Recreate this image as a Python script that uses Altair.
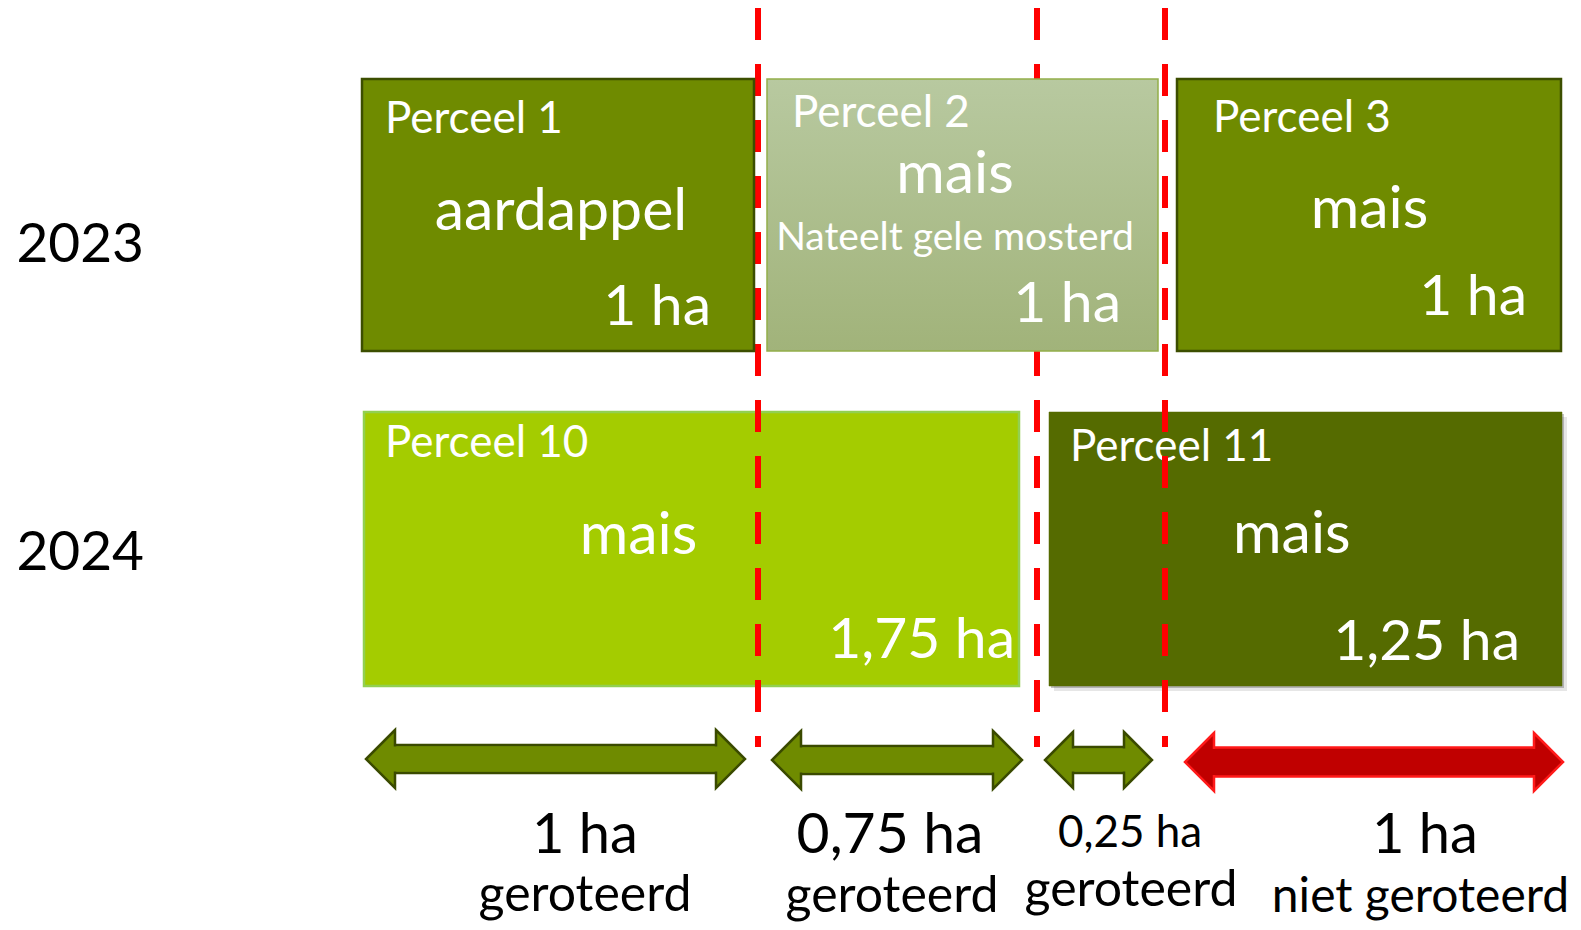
import altair as alt
import pandas as pd

# ---------------- data ----------------
years = ["2023", "2024"]
plots_2023 = ["Perceel 1", "Perceel 2", "Perceel 3"]
crops_2023 = ["aardappel", "mais", "mais"]
aftercrops_2023 = ["", "Nateelt gele mosterd", ""]
areas_2023 = [1.0, 1.0, 1.0]
plots_2024 = ["Perceel 10", "Perceel 11"]
crops_2024 = ["mais", "mais"]
areas_2024 = [1.75, 1.25]
overlap_areas = [1.0, 0.75, 0.25, 1.0]
overlap_status = ["geroteerd", "geroteerd", "geroteerd", "niet geroteerd"]


def starts(areas):
    s, out = 0.0, []
    for a in areas:
        out.append(s)
        s += a
    return out


def ha_label(a):
    return f"{a:g}".replace(".", ",") + " ha"


st_2023 = starts(areas_2023)
st_2024 = starts(areas_2024)
st_ov = starts(overlap_areas)
edges = sorted({round(v, 6) for v in
                st_2023 + [s + a for s, a in zip(st_2023, areas_2023)] +
                st_2024 + [s + a for s, a in zip(st_2024, areas_2024)] +
                st_ov + [s + a for s, a in zip(st_ov, overlap_areas)]})
boundaries = [round(s + a, 6) for s, a in zip(st_ov, overlap_areas)][:-1]

# ---------------- layout / style ----------------
FONT = "Lato"
x_range_px = [212, 608, 887, 1015, 1412]     # diagram is not drawn to scale
XS = alt.Scale(domain=edges, range=x_range_px, nice=False, zero=False, clamp=False)
YS = alt.Scale(domain=[8, 922], range=[0, 914], nice=False, zero=False)


def X(f):
    return alt.X(f, type="quantitative", scale=XS, axis=None)


def Y(f):
    return alt.Y(f, type="quantitative", scale=YS, axis=None)


row_box = {"2023": (79, 351), "2024": (412, 686)}
year_label_baseline = [262, 570]

p2_grad = alt.LinearGradient(
    gradient="linear", x1=0, x2=0, y1=0, y2=1,
    stops=[alt.GradientStop(color="#B8C9A0", offset=0),
           alt.GradientStop(color="#A1B37A", offset=1)])

boxes = []
for i, p in enumerate(plots_2023):
    boxes.append(dict(row="2023", plot=p, crop=crops_2023[i], after=aftercrops_2023[i],
                      start=st_2023[i], end=st_2023[i] + areas_2023[i], area=areas_2023[i]))
for i, p in enumerate(plots_2024):
    boxes.append(dict(row="2024", plot=p, crop=crops_2024[i], after="",
                      start=st_2024[i], end=st_2024[i] + areas_2024[i], area=areas_2024[i]))

box_fill = ["#6F8B00", p2_grad, "#6F8B00", "#A4CC00", "#556B00"]
box_stroke = ["#3C4E00", "#93AE4A", "#3C4E00", "#92D050", "#556B00"]
box_sw = [2.5, 1.5, 2.5, 2.5, 0.5]
box_in_l = [0, 9, 12, 2, 12]
box_in_r = [-4, -7, -1, -18, 0]
title_dx = [23, 34, 48, 23, 33]
crop_dx = [1, 11, 6, -70, -22]
area_dx = [-47, -44, -35, -22, -42]
title_y = [133, 127, 132, 457, 461]
crop_y = [230, 193, 228, 554, 553]
after_y = [0, 250, 0, 0, 0]
area_y = [325, 322, 315, 658, 660]
crop_size = [59, 59, 59, 59, 59]

arrow_fill = ["#6F8B00", "#6F8B00", "#6F8B00", "#C00000"]
arrow_stroke = ["#3A4A00", "#3A4A00", "#3A4A00", "#FF1A1A"]
arrow_in_l = [4, 14, 8, 20]
arrow_in_r = [-13, -15, -13, 1]
arrow_cy = [759, 760, 760, 762]
arrow_head = [29, 29, 28, 29]
arrow_shaft = [14, 14, 13, 14.5]

seg_area_dx = [25, -7.5, 29, 61.5]
seg_status_dx = [25, -5.5, 30, 57]
seg_area_size = [56, 57, 44, 56]
seg_status_size = [50, 50, 50, 48]
seg_area_y = [853, 853, 847, 853]
seg_status_y = [911, 912, 906, 912]

layers = []


def text_layer(xv, yv, txt, size, align, dx, color="white"):
    df = pd.DataFrame({"x": [xv], "y": [yv], "t": [txt]})
    return alt.Chart(df).mark_text(
        align=align, baseline="alphabetic", dx=dx, font=FONT, fontSize=size,
        color=color).encode(x=X("x"), y=Y("y"), text="t:N")


def box_layers(i):
    b = boxes[i]
    top, bot = row_box[b["row"]]
    df = pd.DataFrame({"s": [b["start"]], "e": [b["end"]], "t": [top], "b": [bot]})
    out = []
    if b["plot"] == "Perceel 11":
        for off, op in [(2, 0.35), (5, 0.15)]:
            out.append(alt.Chart(df).mark_rect(
                fill="#555555", opacity=op, xOffset=box_in_l[i] + off, x2Offset=box_in_r[i] + off,
                yOffset=off, y2Offset=off).encode(x=X("s"), x2="e", y=Y("t"), y2="b"))
    out.append(alt.Chart(df).mark_rect(
        fill=box_fill[i], stroke=box_stroke[i], strokeWidth=box_sw[i],
        xOffset=box_in_l[i], x2Offset=box_in_r[i]).encode(x=X("s"), x2="e", y=Y("t"), y2="b"))
    mid = (b["start"] + b["end"]) / 2
    out.append(text_layer(b["start"], title_y[i], b["plot"], 44, "left", title_dx[i]))
    out.append(text_layer(mid, crop_y[i], b["crop"], crop_size[i], "center", crop_dx[i]))
    if b["after"]:
        out.append(text_layer(mid, after_y[i], b["after"], 39, "center", crop_dx[i]))
    out.append(text_layer(b["end"], area_y[i], ha_label(b["area"]), 57, "right", area_dx[i]))
    return out


# year labels (row headers, left of the plot area)
year_df = pd.DataFrame({"year": years, "y": year_label_baseline})
layers.append(alt.Chart(year_df).mark_text(
    align="right", baseline="alphabetic", font=FONT, fontSize=55, color="black").encode(
    x=alt.value(-6), y=Y("y"), text="year:N"))

# 2024 row first (dashed lines run over it)
for i in range(len(boxes)):
    if boxes[i]["row"] == "2024":
        layers += box_layers(i)

# red dashed boundaries
rule_df = pd.DataFrame({"x": boundaries, "y": [8] * len(boundaries), "y2": [747] * len(boundaries)})
layers.append(alt.Chart(rule_df).mark_rule(
    color="#FF0000", strokeWidth=6, strokeDash=[32, 24]).encode(x=X("x"), y=Y("y"), y2="y2"))

# 2023 row on top
for i in range(len(boxes)):
    if boxes[i]["row"] == "2023":
        layers += box_layers(i)

# double arrows
LEFT_HEAD = "M0,-1L-1,0L0,1Z"
RIGHT_HEAD = "M0,-1L1,0L0,1Z"
for i, a in enumerate(overlap_areas):
    s, e = st_ov[i], st_ov[i] + a
    cy, hh, sh = arrow_cy[i], arrow_head[i], arrow_shaft[i]
    df = pd.DataFrame({"s": [s], "e": [e], "cy": [cy], "t": [cy - sh], "b": [cy + sh],
                       "ti": [cy - sh + 1.4], "bi": [cy + sh - 1.4]})
    base = alt.Chart(df)
    xl, xr = arrow_in_l[i] + hh - 2, arrow_in_r[i] - hh + 2
    layers.append(base.mark_rect(fill=arrow_fill[i], stroke=arrow_stroke[i], strokeWidth=2.5,
                                 xOffset=xl, x2Offset=xr).encode(x=X("s"), x2="e", y=Y("t"), y2="b"))
    layers.append(base.mark_point(shape=LEFT_HEAD, size=(2 * hh) ** 2, filled=True, opacity=1,
                                  fill=arrow_fill[i], stroke=arrow_stroke[i], strokeWidth=2.5,
                                  xOffset=arrow_in_l[i] + hh).encode(x=X("s"), y=Y("cy")))
    layers.append(base.mark_point(shape=RIGHT_HEAD, size=(2 * hh) ** 2, filled=True, opacity=1,
                                  fill=arrow_fill[i], stroke=arrow_stroke[i], strokeWidth=2.5,
                                  xOffset=arrow_in_r[i] - hh).encode(x=X("e"), y=Y("cy")))
    layers.append(base.mark_rect(fill=arrow_fill[i], strokeWidth=0,
                                 xOffset=xl, x2Offset=xr).encode(x=X("s"), x2="e", y=Y("ti"), y2="bi"))
    mid = (s + e) / 2
    layers.append(text_layer(mid, seg_area_y[i], ha_label(a), seg_area_size[i], "center",
                             seg_area_dx[i], color="black"))
    layers.append(text_layer(mid, seg_status_y[i], overlap_status[i], seg_status_size[i], "center",
                             seg_status_dx[i], color="black"))

chart = alt.layer(*layers).properties(
    width=1423, height=914,
    autosize=alt.AutoSizeParams(type="none"),
    padding={"left": 142, "top": 0, "right": 0, "bottom": 0},
    background="white",
).configure_view(strokeWidth=0)

chart.save("out.html", embed_options={"renderer": "svg", "actions": False})
